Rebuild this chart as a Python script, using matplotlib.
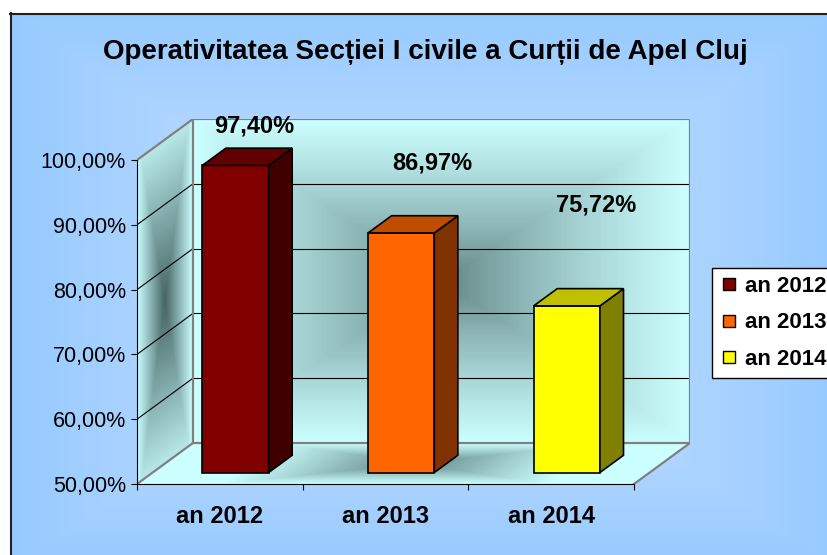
import matplotlib.pyplot as plt
import numpy as np
from matplotlib.colors import LinearSegmentedColormap
from matplotlib.patches import Polygon
from matplotlib.lines import Line2D

plt.rcParams['font.family'] = ['Liberation Sans', 'DejaVu Sans']

# --- Data ---
categories = ["an 2012", "an 2013", "an 2014"]
values = [97.40, 86.97, 75.72]
front_colors = ["#800000", "#ff6600", "#ffff00"]
side_colors = ["#400000", "#803300", "#808000"]
top_colors = ["#600000", "#c04c00", "#c0c000"]
title = "Operativitatea Secției I civile a Curții de Apel Cluj"

# label placement (Excel puts them oddly above the bars)
label_dx = [0.21, 0.28, 0.27]
label_y = [105.3, 99.5, 93.1]

# 3D depth offset of the walls, in data units
DX = 0.338
DY = 6.33
d0 = 0.28      # bar front face depth (fraction of wall depth)
bd = 0.42      # bar depth
bar_w = 0.40

W, H = 828, 555
fig = plt.figure(figsize=(W / 100, H / 100), dpi=100, facecolor="white")

# chart area background gradient
bg = fig.add_axes([10 / W, 0, 1 - 10 / W, 1 - 13 / H])
bg.axis("off")
xs = np.linspace(10, W, 300)
ys = np.linspace(13, H, 200)
gx, gy = np.meshgrid(xs, ys)
t = np.clip(np.maximum(np.abs(gx - 425) / 415, np.abs(gy - 290) / 280), 0, 1)
c_in = np.array([206, 226, 255]) / 255
c_out = np.array([150, 202, 255]) / 255
img = c_in + (c_out - c_in) * t[..., None] ** 1.2
bg.imshow(img, extent=[10, W, H, 13], aspect="auto")
bg.set_xlim(10, W)
bg.set_ylim(H, 13)

# frame border
fig.add_artist(Line2D([10.5 / W, 10.5 / W], [0, 1 - 13 / H], color="#202020", lw=1.5))
fig.add_artist(Line2D([10 / W, 1], [1 - 13.5 / H, 1 - 13.5 / H], color="#202020", lw=1.5))

fig.text(425 / W, 1 - 52 / H, title, ha="center", va="center",
         fontsize=20, fontweight="bold")

ax = fig.add_axes([137 / W, (H - 484) / H, 553 / W, 365 / H])
ax.set_facecolor("none")


def wall(origin, e1, e2, c_center, c_edge, power=0.75, su=1.0, sv=1.0, n=150):
    u = np.linspace(0, 1, n + 1)
    U, V = np.meshgrid(u, u)
    X = origin[0] + U * e1[0] + V * e2[0]
    Y = origin[1] + U * e1[1] + V * e2[1]
    uc = (u[:-1] + u[1:]) / 2
    UC, VC = np.meshgrid(uc, uc)
    tt = np.maximum(su * np.abs(2 * UC - 1), sv * np.abs(2 * VC - 1))
    tt = np.clip(tt, 0, 1) ** power
    cmap = LinearSegmentedColormap.from_list("w", [c_center, c_edge])
    ax.pcolormesh(X, Y, tt, cmap=cmap, vmin=0, vmax=1, shading="flat",
                  antialiased=False, edgecolors="none", zorder=0.5)


n_cat = len(categories)
# back wall, left wall, floor
wall((DX, 50 + DY), (n_cat, 0), (0, 50), "#5c7d7d", "#ccffff")
wall((0, 50), (DX, DY), (0, 50), "#466464", "#ccffff", power=1.0, su=1.0, sv=0.85)
wall((0, 50), (n_cat, 0), (DX, DY), "#5f8383", "#ccffff", power=0.9, su=1.5)

# gridlines
for g in [60, 70, 80, 90]:
    ax.plot([DX, n_cat + DX], [g + DY, g + DY], color="black", lw=0.8, zorder=1)
    ax.plot([0, DX], [g, g + DY], color="black", lw=0.8, zorder=1)

# wall outlines
grey = "#808080"
ax.plot([DX, DX, n_cat + DX, n_cat + DX, DX],
        [50 + DY, 100 + DY, 100 + DY, 50 + DY, 50 + DY], color=grey, lw=1.6, zorder=1.5)
ax.plot([0, DX], [100, 100 + DY], color=grey, lw=1.6, zorder=1.5)
ax.plot([0, DX], [50, 50 + DY], color=grey, lw=1.6, zorder=1.5)
ax.plot([n_cat, n_cat + DX], [50, 50 + DY], color=grey, lw=1.6, zorder=1.5)

# bars
xc = np.arange(n_cat) + 0.5 + d0 * DX
base = 50 + d0 * DY
heights = [v - 50 for v in values]
ax.bar(xc, heights, width=bar_w, bottom=base, color=front_colors,
       edgecolor="black", linewidth=1.2, zorder=3)
ddx, ddy = bd * DX, bd * DY
for i, v in enumerate(values):
    left, right = xc[i] - bar_w / 2, xc[i] + bar_w / 2
    top = v + d0 * DY
    ax.add_patch(Polygon([(right, base), (right + ddx, base + ddy),
                          (right + ddx, top + ddy), (right, top)],
                         closed=True, facecolor=side_colors[i], edgecolor="black",
                         lw=1.2, zorder=3))
    ax.add_patch(Polygon([(left, top), (right, top), (right + ddx, top + ddy),
                          (left + ddx, top + ddy)],
                         closed=True, facecolor=top_colors[i], edgecolor="black",
                         lw=1.2, zorder=3))
    ax.text(i + 0.5 + label_dx[i], label_y[i], f"{v:.2f}%".replace(".", ","),
            ha="center", va="center", fontsize=17, fontweight="bold", zorder=4)

ax.set_xlim(0, n_cat + DX)
ax.set_ylim(50, 100 + DY)

for s in ["top", "right"]:
    ax.spines[s].set_visible(False)
ax.spines["left"].set_bounds(50, 100)
ax.spines["bottom"].set_bounds(0, n_cat)
ax.spines["left"].set_zorder(2.5)
ax.spines["bottom"].set_zorder(2.5)

yt = np.arange(50, 101, 10)
ax.set_yticks(yt)
ax.set_yticklabels([f"{v:.2f}%".replace(".", ",") for v in yt])
ax.tick_params(axis="y", direction="out", length=4, pad=4, labelsize=15.5)

ax.set_xticks(np.arange(n_cat + 1))
ax.set_xticklabels([])
ax.set_xticks(np.arange(n_cat) + 0.5, minor=True)
ax.set_xticklabels(categories, minor=True, fontsize=17, fontweight="bold")
ax.tick_params(axis="x", which="major", direction="out", length=4)
ax.tick_params(axis="x", which="minor", length=0, pad=15)

handles = [Line2D([], [], marker="s", ls="none", markerfacecolor=c,
                  markeredgecolor="black", markersize=9, markeredgewidth=1)
           for c in front_colors]
leg = fig.legend(handles, categories, loc="upper left",
                 bbox_to_anchor=(712 / W, 1 - 268 / H), borderaxespad=0,
                 frameon=True, fancybox=False, edgecolor="black", framealpha=1,
                 prop={"weight": "bold", "size": 16}, handlelength=0.8,
                 handletextpad=0.35, labelspacing=0.7, borderpad=0.35)
leg.get_frame().set_linewidth(1)

plt.savefig("out.png", dpi=100)
